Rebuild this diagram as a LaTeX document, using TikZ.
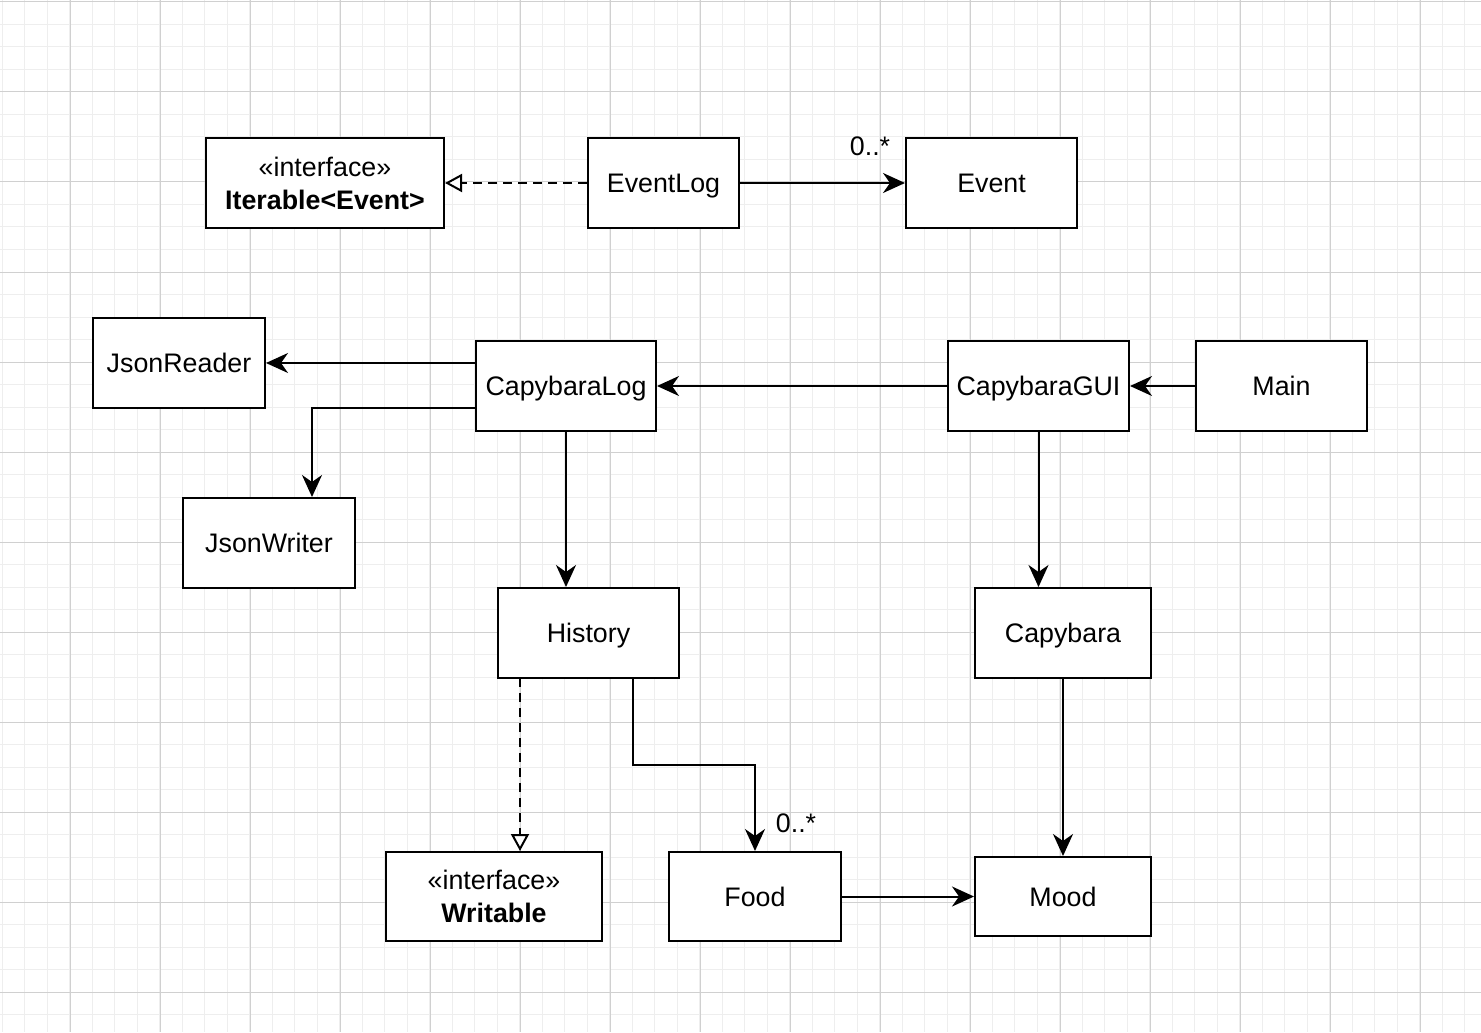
\documentclass[tikz,border=0pt]{standalone}
\usepackage{fontspec}
\setmainfont{Liberation Sans}
\usetikzlibrary{arrows.meta}
\definecolor{gridminor}{HTML}{EEEEEE}
\definecolor{gridmajor}{HTML}{D0D0D0}
\tikzset{
  box/.style={draw, line width=1pt, fill=white, inner sep=0pt, align=center,
    font=\fontsize{13.4}{16.5}\selectfont},
  single/.style={text height=9.6pt, text depth=0pt},
  assoc/.style={line width=1pt, -{Stealth[length=11pt, width=10pt, inset=3.5pt]}},
  realize/.style={line width=1pt, dash pattern=on 4.5pt off 3pt,
    -{Triangle[open, length=8.5pt, width=9pt, fill=white]}},
  mult/.style={inner sep=0pt, font=\fontsize{13.4}{16}\selectfont}
}
\begin{document}
\begin{tikzpicture}[x=0.5pt, y=-0.5pt]
\useasboundingbox (0,0) rectangle (1481,1032);
\fill[white] (0,0) rectangle (1481,1032);
% grid
\foreach \k in {0,...,65} {
  \draw[gridminor, line width=0.5pt] ({2+22.5*\k},0) -- ({2+22.5*\k},1032);
}
\foreach \k in {0,...,45} {
  \draw[gridminor, line width=0.5pt] (0,{2+22.5*\k}) -- (1481,{2+22.5*\k});
}
\foreach \k in {0,...,16} {
  \draw[gridmajor, line width=0.5pt] ({-20+90*\k},0) -- ({-20+90*\k},1032);
}
\foreach \k in {0,...,11} {
  \draw[gridmajor, line width=0.5pt] (0,{2+90*\k}) -- (1481,{2+90*\k});
}
% nodes
\node[box, minimum width=119pt, minimum height=45pt] (iter) at (325,183)
  {«interface»\\\textbf{Iterable<Event>}};
\node[box, single, minimum width=75.5pt, minimum height=45pt] (elog) at (663.5,183) {EventLog};
\node[box, single, minimum width=85.5pt, minimum height=45pt] (event) at (991.5,183) {Event};
\node[box, single, minimum width=86pt, minimum height=45pt] (jreader) at (179,363) {JsonReader};
\node[box, single, minimum width=90pt, minimum height=45pt] (clog) at (566,386) {CapybaraLog};
\node[box, single, minimum width=90.5pt, minimum height=45pt] (cgui) at (1038.5,386) {CapybaraGUI};
\node[box, single, minimum width=85.5pt, minimum height=45pt] (main) at (1281.5,386) {Main};
\node[box, single, minimum width=86pt, minimum height=45pt] (jwriter) at (269,543) {JsonWriter};
\node[box, single, minimum width=90.5pt, minimum height=45pt] (hist) at (588.5,633) {History};
\node[box, single, minimum width=88pt, minimum height=45pt] (capy) at (1063,633) {Capybara};
\node[box, minimum width=108pt, minimum height=44.5pt] (writ) at (494,896.5)
  {«interface»\\\textbf{Writable}};
\node[box, single, minimum width=86pt, minimum height=44.5pt] (food) at (755,896.5) {Food};
\node[box, single, minimum width=88pt, minimum height=39.5pt] (mood) at (1063,896.5) {Mood};
% connectors
\draw[realize] (elog.west) -- (iter.east);
\draw[assoc] (elog.east) -- (event.west);
\node[mult] (m1) at (870,146) {0..*};
\draw[assoc] (clog.west |- jreader.east) -- (jreader.east);
\coordinate (jwin) at (312,408);
\draw[assoc] (clog.west |- jwin) -- (jwin) -- (jwin |- jwriter.north);
\draw[assoc] (clog.south) -- (clog.south |- hist.north);
\draw[assoc] (cgui.west) -- (clog.east);
\draw[assoc] (main.west) -- (cgui.east);
\draw[assoc] (cgui.south) -- (cgui.south |- capy.north);
\coordinate (hwr) at (520,678);
\draw[realize] (hwr) -- (hwr |- writ.north);
\coordinate (hfd) at (633,678);
\coordinate (hfd2) at (633,765);
\draw[assoc] (hfd) -- (hfd2) -- (food.north |- hfd2) -- (food.north);
\node[mult] (m2) at (796,823) {0..*};
\draw[assoc] (capy.south) -- (mood.north);
\draw[assoc] (food.east |- mood.west) -- (mood.west);
\end{tikzpicture}
\end{document}
